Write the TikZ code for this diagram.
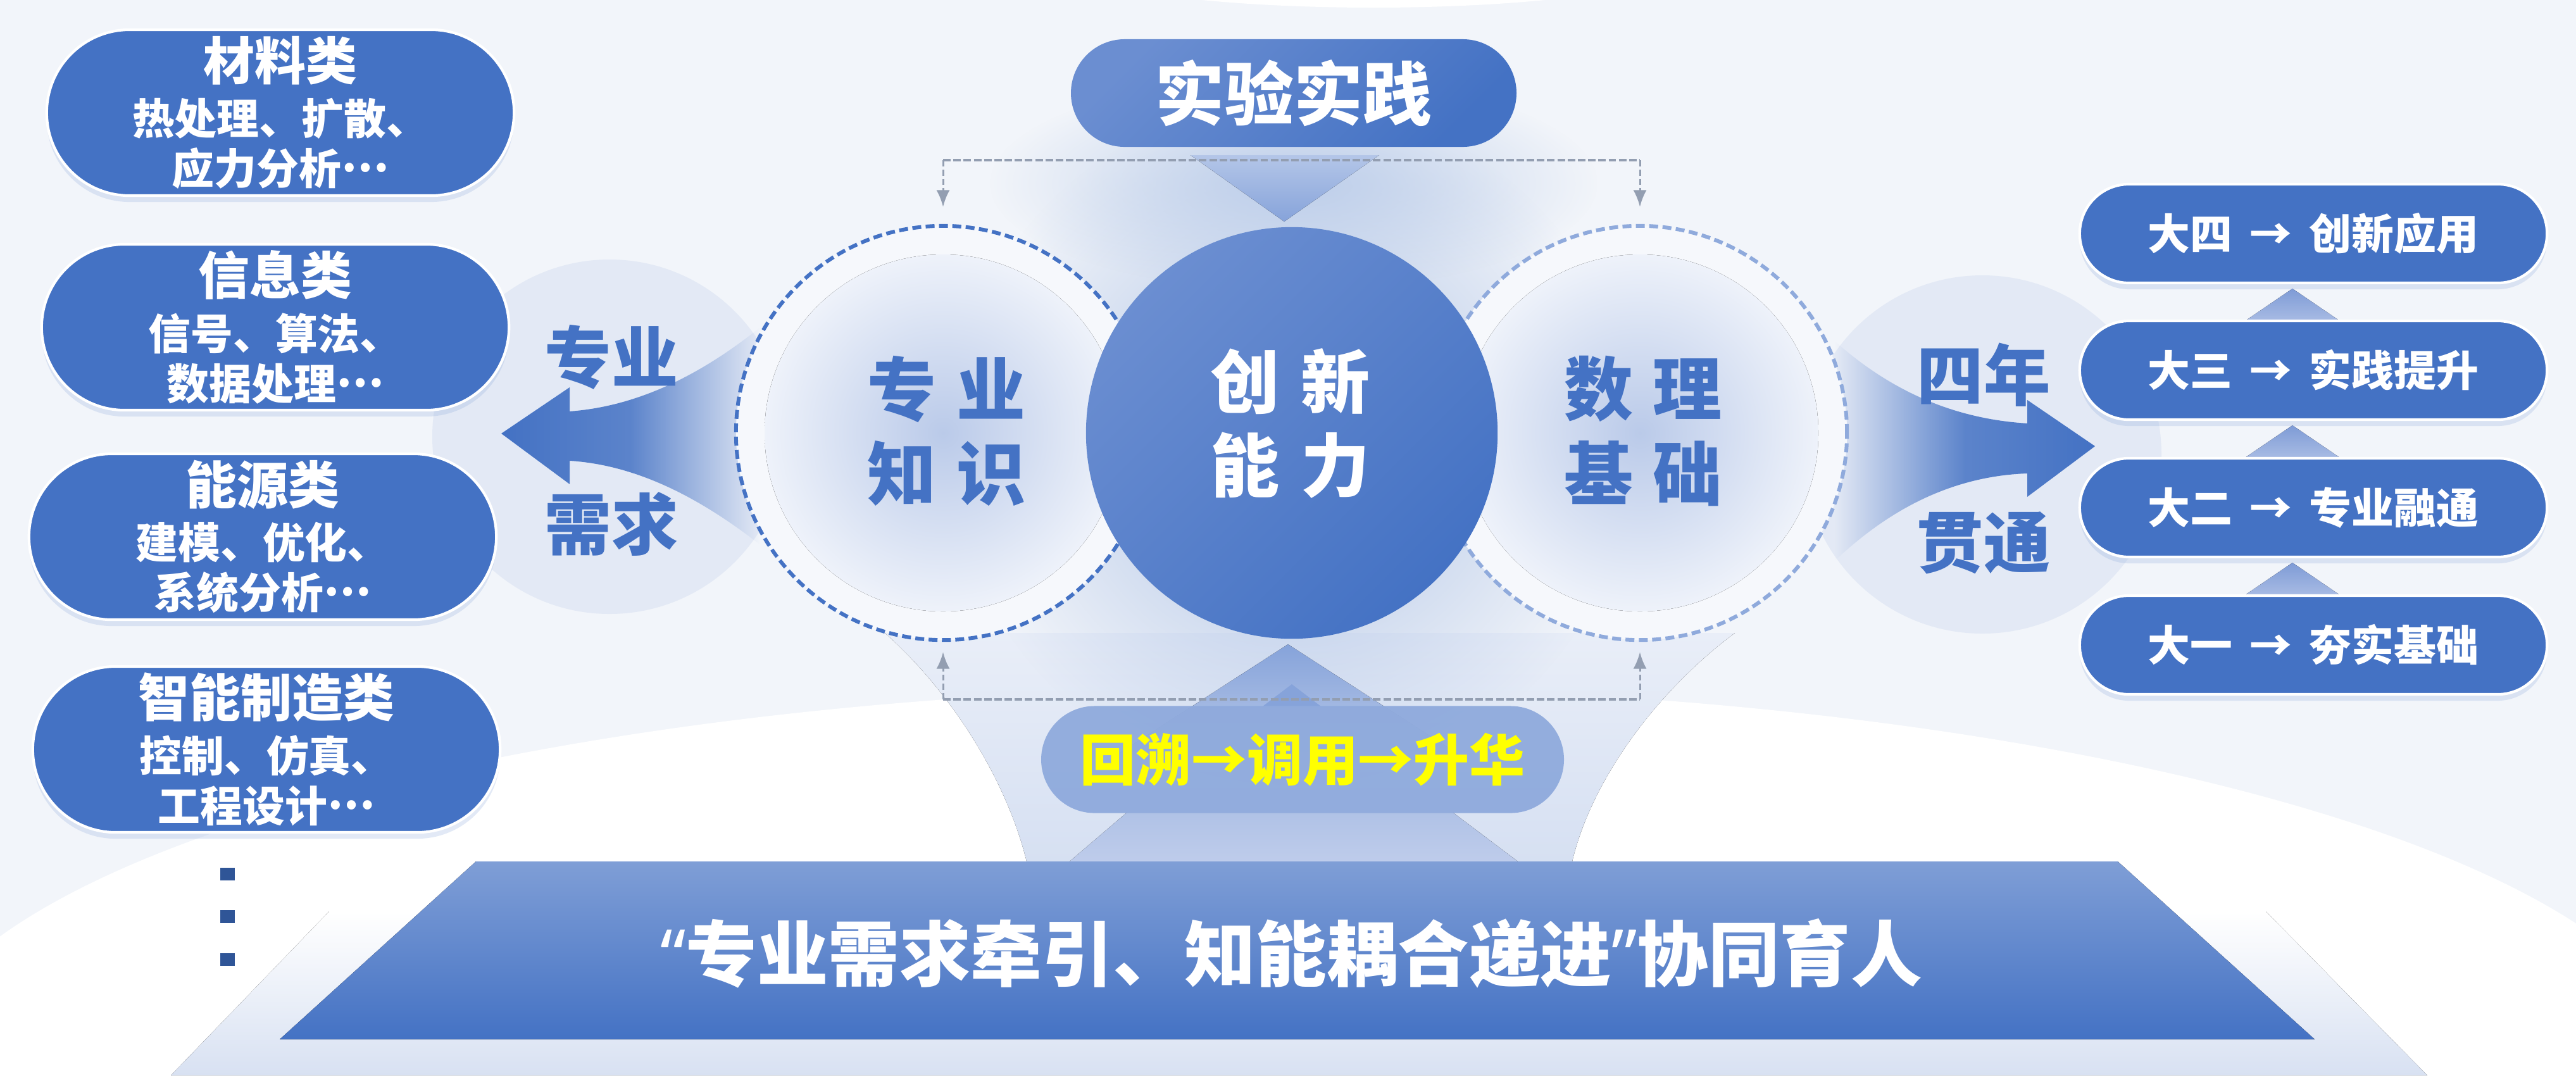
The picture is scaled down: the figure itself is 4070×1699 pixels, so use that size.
\documentclass[tikz,border=0pt]{standalone}
\usepackage{fontspec}
\newfontfamily\cjk{Noto Sans CJK SC}
\newfontfamily\latn{Noto Sans}
\usetikzlibrary{calc, arrows.meta, shapes.misc, fadings, shadows}

\definecolor{cblue}{HTML}{4472C4}
\definecolor{cmid}{HTML}{6B8ED1}
\definecolor{clight}{HTML}{8FAADC}
\definecolor{cdark}{HTML}{2F5597}
\definecolor{cgray}{HTML}{939EB1}
\definecolor{cbg}{HTML}{F2F5FA}
\definecolor{cpale}{HTML}{E3E9F5}
\definecolor{cring}{HTML}{F6F8FC}
\definecolor{cin}{HTML}{BACAE9}
\definecolor{cout}{HTML}{EEF2FA}
\definecolor{cbase}{HTML}{D8E1F2}
\definecolor{cspotA}{HTML}{E9EEF8}
\definecolor{cspotB}{HTML}{D6E0F2}
\definecolor{ctriA}{HTML}{7E9BD6}
\definecolor{ctriB}{HTML}{BBCAEA}
\definecolor{ctopA}{HTML}{B4C6E8}
\definecolor{ctopB}{HTML}{86A3DA}
\definecolor{clowA}{HTML}{B0C2E6}
\definecolor{clowB}{HTML}{BECCEB}
\definecolor{cbanner}{HTML}{7F9ED6}
\definecolor{cyellow}{HTML}{FFFF00}

\newcommand{\middots}{\raisebox{0.3em}{…}}

\pgfdeclareradialshading{glowshade}{\pgfpointorigin}{color(0bp)=(pgftransparent!0); color(25bp)=(pgftransparent!100); color(50bp)=(pgftransparent!100)}
\pgfdeclarefading{softglow}{\pgfuseshading{glowshade}}
\pgfdeclarehorizontalshading{tailLshade}{100bp}{color(0bp)=(pgftransparent!0); color(25bp)=(pgftransparent!0); color(50bp)=(pgftransparent!15); color(75bp)=(pgftransparent!100); color(100bp)=(pgftransparent!100)}
\pgfdeclarefading{tailL}{\pgfuseshading{tailLshade}}
\pgfdeclarehorizontalshading{tailRshade}{100bp}{color(0bp)=(pgftransparent!100); color(25bp)=(pgftransparent!100); color(50bp)=(pgftransparent!15); color(75bp)=(pgftransparent!0); color(100bp)=(pgftransparent!0)}
\pgfdeclarefading{tailR}{\pgfuseshading{tailRshade}}

\begin{document}
\begin{tikzpicture}[x=0.01cm, y=-0.01cm,
	catpill/.style={rounded rectangle, fill=cblue, draw=white, line width=1.2pt,
		minimum width=7.38cm, minimum height=2.62cm, inner sep=0pt, text=white, align=center,
		font=\cjk\bfseries\fontsize{19}{22.5}\selectfont,
		drop shadow={shadow xshift=0pt, shadow yshift=-0.1cm, fill=cblue!60, opacity=.25}},
	yearpill/.style={catpill, minimum height=1.56cm},
	ringnode/.style={circle, minimum size=6.54cm, line width=1.7pt, dash pattern=on 4pt off 2pt, fill=cring},
	ringtext/.style={text=cblue, align=center, font=\cjk\bfseries\fontsize{31}{38}\selectfont},
	sidetext/.style={text=cblue, font=\cjk\bfseries\fontsize{30}{32}\selectfont},
	bracket/.style={cgray, line width=1.3pt, dash pattern=on 3.4pt off 1.2pt},
	dropline/.style={cgray, line width=0.85pt, dash pattern=on 2.8pt off 1.4pt, -{Latex[length=7.5pt, width=6pt]}},
	]
	\useasboundingbox (0,0) rectangle (4070,1699);

	% background
	\fill[cbg] (0,0) rectangle (4070,1699);
	\fill[white] (2170,-60) ellipse [x radius=490, y radius=72];
	\fill[white] (2050,1705) ellipse [x radius=2200, y radius=620];
	\fill[top color=white, bottom color=cbase] (520,1440) -- (3580,1440) -- (3835,1699) -- (270,1699) -- cycle;
	\fill[top color=cspotA, bottom color=cspotB] (1398,1000) .. controls (1500,1090) and (1590,1230) .. (1622,1361)
		-- (2484,1361) .. controls (2515,1230) and (2620,1090) .. (2741,1000) -- cycle;
	\fill[cblue!45, path fading=softglow] (2041,700) circle [radius=540];
	\fill[cblue!35, path fading=softglow] (2044,290) ellipse [x radius=480, y radius=170];

	\fill[cpale] (963,690) circle [radius=280];
	\fill[cpale] (3132,718) circle [radius=283];

	% side arrows
	\fill[cblue, path fading=tailL] (792,685) -- (900,612) -- (900,650)
		.. controls (1010,642) and (1110,590) .. (1200,518) -- (1200,860)
		.. controls (1110,790) and (1010,735) .. (900,728) -- (900,765) -- cycle;
	\fill[cblue, path fading=tailR] (3310,705) -- (3203,632) -- (3203,669)
		.. controls (3090,662) and (2990,620) .. (2900,540) -- (2900,885)
		.. controls (2990,800) and (3090,752) .. (3203,748) -- (3203,785) -- cycle;
	\node[sidetext] (zyA) at (966,564) {专业};
	\node[sidetext] (zyB) at (966,828) {需求};
	\node[sidetext] (snA) at (3134,592) {四年};
	\node[sidetext] (snB) at (3134,858) {贯通};

	% rings
	\node[ringnode, draw=cblue] (zsk) at (1490,684) {};
	\node[ringnode, draw=clight] (slj) at (2591,684) {};
	\fill[inner color=cin, outer color=cout] (zsk.center) circle [radius=282];
	\fill[inner color=cin, outer color=cout] (slj.center) circle [radius=282];
	\node[ringtext] (zsktxt) at (1496,681) {专\hspace{0.32cm}业\\知\hspace{0.32cm}识};
	\node[ringtext] (sljtxt) at (2596,681) {数\hspace{0.32cm}理\\基\hspace{0.32cm}础};

	\node[circle, minimum size=6.5cm, top color=cmid, bottom color=cblue, shading angle=45] (cxnl) at (2041,684) {};
	\node[ringtext, text=white, font=\cjk\bfseries\fontsize{31}{37.5}\selectfont] (cxtxt) at (2038,669) {创\hspace{0.34cm}新\\能\hspace{0.34cm}力};

	% triangles
	\fill[top color=ctopA, bottom color=ctopB] (1881,245) -- (2179,245) -- (2029,350) -- cycle;
	\fill[top color=ctopB, bottom color=cin] (2035,1018) -- (2317,1200) -- (1753,1200) -- cycle;
	\fill[ctopB] (2041,1081) -- (2087,1116) -- (1995,1116) -- cycle;
	\fill[top color=clowA, bottom color=clowB] (1780,1284) -- (2296,1284) -- (2398,1361) -- (1690,1361) -- cycle;
	\foreach \ya in {447,663,880}
		\fill[top color=ctriA, bottom color=ctriB] (3622,\ya+9) -- (3732,\ya+84) -- (3512,\ya+84) -- cycle;

	% dashed brackets
	\coordinate (tl) at (zsk.north |- 0,253);
	\coordinate (tr) at (slj.north |- 0,253);
	\coordinate (bl) at (zsk.south |- 0,1105);
	\coordinate (br) at (slj.south |- 0,1105);
	\draw[bracket] (tl) -- (tr);
	\draw[bracket] (bl) -- (br);
	\draw[dropline, shorten >=0.27cm] (tl) -- (zsk.north);
	\draw[dropline, shorten >=0.27cm] (tr) -- (slj.north);
	\draw[dropline, shorten >=0.16cm] (bl) -- (zsk.south);
	\draw[dropline, shorten >=0.16cm] (br) -- (slj.south);

	% top and bottom pills
	\node[rounded rectangle, minimum width=7.27cm, minimum height=1.7cm, top color=cmid, bottom color=cblue, shading angle=45,
		text=white, font=\cjk\bfseries\fontsize{31}{33}\selectfont] (sysj) at (2044,147) {实验实践};
	\node[rounded rectangle, minimum width=8.49cm, minimum height=1.69cm, fill=clight, fill opacity=.95, text opacity=1,
		text=cyellow, font=\cjk\bfseries\fontsize{25}{27}\selectfont] (hsdy) at (2058,1200) {回溯→调用→升华};

	% categories
	\node[catpill] (clA) at (443,178) {{\fontsize{23}{24}\selectfont 材料类}\\[2pt]热处理、扩散、\\应力分析\middots};
	\node[catpill] (clB) at (435,517) {{\fontsize{23}{24}\selectfont 信息类}\\[2pt]信号、算法、\\数据处理\middots};
	\node[catpill] (clC) at (415,848) {{\fontsize{23}{24}\selectfont 能源类}\\[2pt]建模、优化、\\系统分析\middots};
	\node[catpill] (clD) at (421,1184) {{\fontsize{23}{24}\selectfont 智能制造类}\\[2pt]控制、仿真、\\工程设计\middots};
	\foreach \yy in {1381,1448,1516}
		\fill[cdark] (348,\yy-10) rectangle ++(23,20);

	% years
	\foreach \yy/\txt [count=\i] in {369/{大四\hspace{0.12cm} → \hspace{0.12cm}创新应用}, 585/{大三\hspace{0.12cm} → \hspace{0.12cm}实践提升},
		802/{大二\hspace{0.12cm} → \hspace{0.12cm}专业融通}, 1019/{大一\hspace{0.12cm} → \hspace{0.12cm}夯实基础}}
		\node[yearpill] (yr\i) at (3655,\yy) {\txt};

	% base banner
	\fill[top color=cbanner, bottom color=cblue] (752,1361) -- (3346,1361) -- (3657,1642) -- (442,1642) -- cycle;
	\node[text=white, font=\cjk\bfseries\fontsize{32}{34}\selectfont] (motto) at (2040,1506)
		{{\latn “}专业需求牵引、知能耦合递进{\latn ”}协同育人};
\end{tikzpicture}
\end{document}
